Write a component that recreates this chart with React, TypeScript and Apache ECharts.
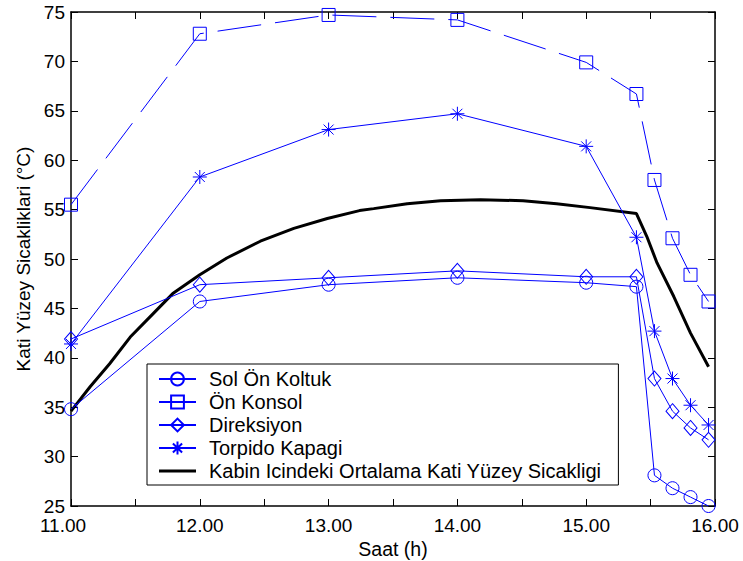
import React, { useEffect, useRef } from "react";
import * as echarts from "echarts";

const hours = [11.0, 12.0, 13.0, 14.0, 15.0, 15.39, 15.53, 15.67, 15.81, 15.95];
const solOnKoltuk = [34.8, 45.7, 47.4, 48.1, 47.6, 47.2, 28.1, 26.8, 25.9, 25.0];
const onKonsol = [55.5, 72.8, 74.7, 74.2, 69.9, 66.7, 58.0, 52.1, 48.4, 45.7];
const direksiyon = [41.9, 47.4, 48.1, 48.8, 48.2, 48.2, 37.9, 34.6, 32.9, 31.7];
const torpidoKapagi = [41.4, 58.3, 63.1, 64.7, 61.4, 52.2, 42.7, 37.9, 35.2, 33.2];
const kabinHours = [11.0, 11.15, 11.3, 11.46, 11.64, 11.79, 12.0, 12.21, 12.47, 12.73, 12.99, 13.24, 13.35, 13.61, 13.87, 14.18, 14.51, 14.77, 15.03, 15.39, 15.47, 15.55, 15.68, 15.81, 15.95];
const kabinOrtalama = [34.6, 37.1, 39.4, 42.1, 44.5, 46.5, 48.4, 50.1, 51.8, 53.1, 54.1, 54.9, 55.1, 55.6, 55.9, 56.0, 55.9, 55.6, 55.2, 54.6, 52.3, 49.6, 46.2, 42.5, 39.1];

const seriesNames = [
  "Sol Ön Koltuk",
  "Ön Konsol",
  "Direksiyon",
  "Torpido Kapagi",
  "Kabin Icindeki Ortalama Kati Yüzey Sicakligi",
];

const BLUE = "#0000ff";
const FONT = "'Liberation Sans', Arial, Helvetica, sans-serif";
const ASTERISK = "path://M7 0L7 14M0 7L14 7M2 2L12 12M2 12L12 2";

function zip(xs: number[], ys: number[]) {
  return xs.map((x, i) => [x, ys[i]]);
}

export default function App() {
  const ref = useRef<HTMLDivElement>(null);
  useEffect(() => {
    if (!ref.current) return;
    const chart = echarts.init(ref.current, null, { renderer: "svg" });
    const markerSeries = (name: string, ys: number[], symbol: string, size: any, dash?: number[]) => ({
      name,
      type: "line",
      data: zip(hours, ys),
      symbol,
      symbolSize: size,
      showSymbol: true,
      clip: false,
      itemStyle: { color: "rgba(0,0,0,0)", borderColor: BLUE, borderWidth: 1 },
      lineStyle: { color: BLUE, width: 1, type: dash ? dash : "solid" },
      emphasis: { disabled: true },
      z: 3,
    });
    const axisCommon = {
      axisLine: { show: true, onZero: false, lineStyle: { color: "#000", width: 1.5 } },
      axisTick: { show: true, inside: true, length: 7, lineStyle: { color: "#000", width: 1 } },
      splitLine: { show: false },
    };
    chart.setOption({
      animation: false,
      backgroundColor: "#fff",
      grid: { left: 71, right: 28, top: 12, bottom: 55, containLabel: false, outerBoundsMode: "none" },
      xAxis: [
        {
          type: "value",
          min: 11,
          max: 16,
          interval: 0.5,
          position: "bottom",
          ...axisCommon,
          axisLabel: {
            show: true,
            margin: 12,
            fontSize: 19,
            lineHeight: 14,
            fontFamily: FONT,
            color: "#000",
            showMinLabel: true,
            showMaxLabel: true,
            formatter: (v: number) => {
              if (Math.abs(v - Math.round(v)) > 1e-6) return "";
              return v === 11 ? "{first|" + v.toFixed(2) + "}" : v.toFixed(2);
            },
            rich: {
              first: { fontSize: 19, lineHeight: 14, fontFamily: FONT, color: "#000", padding: [0, 16, 0, 0] },
            },
          },
          name: "Saat (h)",
          nameLocation: "middle",
          nameGap: 27,
          nameTextStyle: { fontSize: 19.5, fontFamily: FONT, color: "#000" },
        },
        {
          type: "value",
          min: 11,
          max: 16,
          interval: 0.5,
          position: "top",
          ...axisCommon,
          axisLabel: { show: false },
        },
      ],
      yAxis: [
        {
          type: "value",
          min: 25,
          max: 75,
          interval: 5,
          position: "left",
          ...axisCommon,
          axisLabel: { show: true, margin: 6, fontSize: 19, lineHeight: 14, fontFamily: FONT, color: "#000" },
          name: "Kati Yüzey Sicakliklari (°C)",
          nameLocation: "middle",
          nameGap: 38,
          nameTextStyle: { fontSize: 19, fontFamily: FONT, color: "#000" },
        },
        {
          type: "value",
          min: 25,
          max: 75,
          interval: 5,
          position: "right",
          ...axisCommon,
          axisLabel: { show: false },
        },
      ],
      legend: {
        orient: "vertical",
        left: 147,
        top: 364,
        itemWidth: 37,
        itemHeight: 16,
        itemGap: 3,
        padding: [5, 17, 4, 11],
        borderColor: "#000",
        borderWidth: 1,
        backgroundColor: "#fff",
        selectedMode: false,
        textStyle: { fontSize: 20, fontFamily: FONT, color: "#000", lineHeight: 20, padding: [0, 0, 0, 8] },
        data: [
          { name: seriesNames[0] },
          { name: seriesNames[1], lineStyle: { type: "solid" } },
          { name: seriesNames[2] },
          { name: seriesNames[3] },
          { name: seriesNames[4], icon: "path://M0 0L37 0L37 3L0 3Z", itemStyle: { color: "#000", borderWidth: 0 } },
        ],
      },
      series: [
        markerSeries(seriesNames[0], solOnKoltuk, "circle", 13),
        markerSeries(seriesNames[1], onKonsol, "rect", 13, [44, 14]),
        markerSeries(seriesNames[2], direksiyon, "diamond", [13, 15]),
        markerSeries(seriesNames[3], torpidoKapagi, ASTERISK, 14),
        {
          name: seriesNames[4],
          type: "line",
          data: zip(kabinHours, kabinOrtalama),
          symbol: "none",
          showSymbol: false,
          clip: false,
          itemStyle: { color: "#000" },
          lineStyle: { color: "#000", width: 3 },
          emphasis: { disabled: true },
          z: 2,
        },
      ],
    });
    return () => chart.dispose();
  }, []);
  return <div ref={ref} style={{ position: "fixed", left: 0, top: 0, width: 743, height: 561 }} />;
}
